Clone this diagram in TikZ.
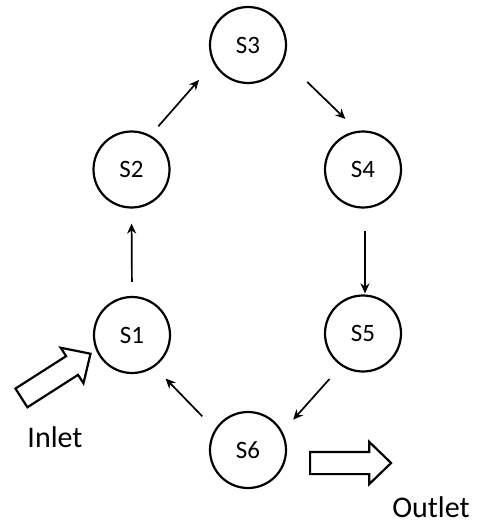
\documentclass[tikz,border=0pt]{standalone}
\usepackage{fontspec}
\setmainfont{Carlito}
\usetikzlibrary{arrows.meta,shapes.arrows}

\begin{document}
\begin{tikzpicture}[x=1pt, y=-1pt,
        state/.style={circle, draw, line width=2.2pt, minimum size=76pt, inner sep=0pt, font=\fontsize{25}{28}\selectfont},
        flow/.style={-{Stealth[length=10pt,width=9pt]}, line width=1.7pt},
        bigarrow/.style={single arrow, draw, line width=2.2pt, inner xsep=0pt, inner ysep=10pt, single arrow head extend=10pt, single arrow tip angle=88, anchor=tail},
        label/.style={font=\fontsize{30}{34}\selectfont, anchor=base, inner sep=0pt}]
        \useasboundingbox (0,0) rectangle (481,524);
        % states of the cycle
        \node[state] (S3) at (248,45) {S3};
        \node[state] (S2) at (131.5,169.5) {S2};
        \node[state] (S4) at (363,169.5) {S4};
        \node[state] (S1) at (132,335) {S1};
        \node[state] (S5) at (363,333.5) {S5};
        \node[state] (S6) at (248,450) {S6};
        % transitions
        \draw[flow, shorten <=14pt, shorten >=15pt] (S1.north) -- (S2.south);
        \draw[flow, shorten <=12pt, shorten >=22pt] (S2.61) -- (S3.-152.4);
        \draw[flow, shorten <=32pt, shorten >=17pt] (S3.-22.7) -- (S4.98.8);
        \draw[flow, shorten <=22pt, shorten >=1pt] ([xshift=2pt]S4.south) -- ([xshift=2pt]S5.north);
        \draw[flow, shorten <=17.5pt, shorten >=16pt] (S5.-124) -- (S6.28.7);
        \draw[flow, shorten <=18pt, shorten >=16pt] (S6.148.2) -- (S1.-55.4);
        % inlet and outlet
        \node[bigarrow, minimum height=82pt, rotate=32.6] (inarrow) at (20.5,398.5) {};
        \node[bigarrow, minimum height=81pt] (outarrow) at (309,463) {};
        \node[label] (inlet) at (55,447) {Inlet};
        \node[label] (outlet) at (431,517) {Outlet};
    \end{tikzpicture}
\end{document}
